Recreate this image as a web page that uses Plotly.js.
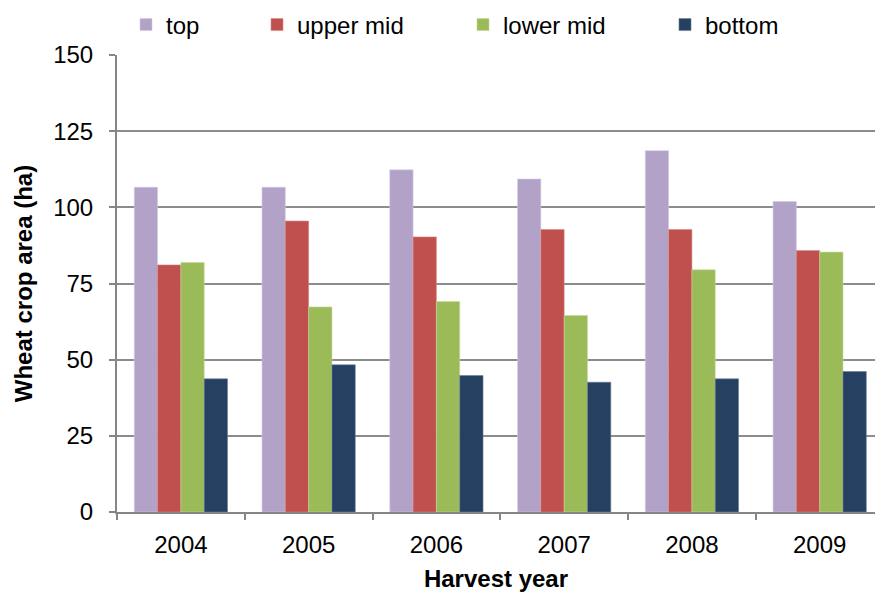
<!DOCTYPE html>
<html>
<head>
<meta charset="utf-8">
<script src="https://cdn.plot.ly/plotly-3.0.1.min.js"></script>
<style>html,body{margin:0;padding:0;background:#fff;}#chart{width:875px;height:596px;}</style>
</head>
<body>
<div id="chart"></div>
<script>
var years = ["2004", "2005", "2006", "2007", "2008", "2009"];
var seriesNames = ["top", "upper mid", "lower mid", "bottom"];
var topVals = [106.6, 106.6, 112.3, 109.3, 118.6, 101.9];
var upperMidVals = [81.1, 95.5, 90.3, 92.7, 92.7, 85.8];
var lowerMidVals = [81.9, 67.3, 69.1, 64.5, 79.5, 85.3];
var bottomVals = [43.7, 48.3, 44.8, 42.6, 43.7, 46.1];
var colors = ["#B3A2C7", "#C0504D", "#9BBB59", "#254061"];
var edgeColors = ["#D5CBE2", "#D98A88", "#C4D89B", "#6A7E99"];
var legendIds = ["legend", "legend2", "legend3", "legend4"];
var legendLeftPx = [126, 257, 463, 665];

var allVals = [topVals, upperMidVals, lowerMidVals, bottomVals];
var traces = allVals.map(function (v, i) {
  return {
    type: "bar",
    name: seriesNames[i],
    x: years,
    y: v,
    legend: legendIds[i],
    marker: { color: colors[i], line: { color: edgeColors[i], width: 0.6 } },
    hoverinfo: "x+y+name"
  };
});

var font = { family: "Liberation Sans, Arial, sans-serif", size: 24, color: "#000" };
var layout = {
  width: 875,
  height: 596,
  margin: { l: 117, r: 0, t: 55, b: 84, pad: 0 },
  paper_bgcolor: "#fff",
  plot_bgcolor: "#fff",
  font: font,
  barmode: "group",
  bargap: 0.27,
  bargroupgap: 0,
  showlegend: true,
  xaxis: {
    type: "category",
    range: [-0.5, 5.433],
    showline: true,
    linecolor: "#868686",
    linewidth: 2,
    ticks: "outside",
    tickson: "boundaries",
    ticklen: 6,
    tickwidth: 2,
    tickcolor: "#868686",
    showgrid: false,
    tickfont: font,
    ticklabelstandoff: 10,
    title: { text: "<b>Harvest year</b>", font: font, standoff: 13 }
  },
  yaxis: {
    range: [0, 150],
    tickvals: [0, 25, 50, 75, 100, 125, 150],
    ticktext: ["0", "25", "50", "75", "100", "125", "150"],
    showline: true,
    linecolor: "#868686",
    linewidth: 2,
    ticks: "outside",
    ticklen: 6,
    tickwidth: 2,
    tickcolor: "#868686",
    showgrid: true,
    gridcolor: "#8C8C8C",
    gridwidth: 2,
    zeroline: false,
    tickfont: font,
    ticklabelstandoff: 11,
    title: { text: "<b>Wheat crop area (ha)</b>", font: font, standoff: 14 }
  }
};

legendIds.forEach(function (id, i) {
  layout[id] = {
    orientation: "h",
    xref: "container",
    yref: "container",
    x: legendLeftPx[i] / 875,
    xanchor: "left",
    y: 1 - 25 / 596,
    yanchor: "middle",
    font: font,
    itemwidth: 30,
    bgcolor: "rgba(0,0,0,0)",
    borderwidth: 0
  };
});

Plotly.newPlot("chart", traces, layout, { displayModeBar: false, staticPlot: true });
</script>
</body>
</html>
